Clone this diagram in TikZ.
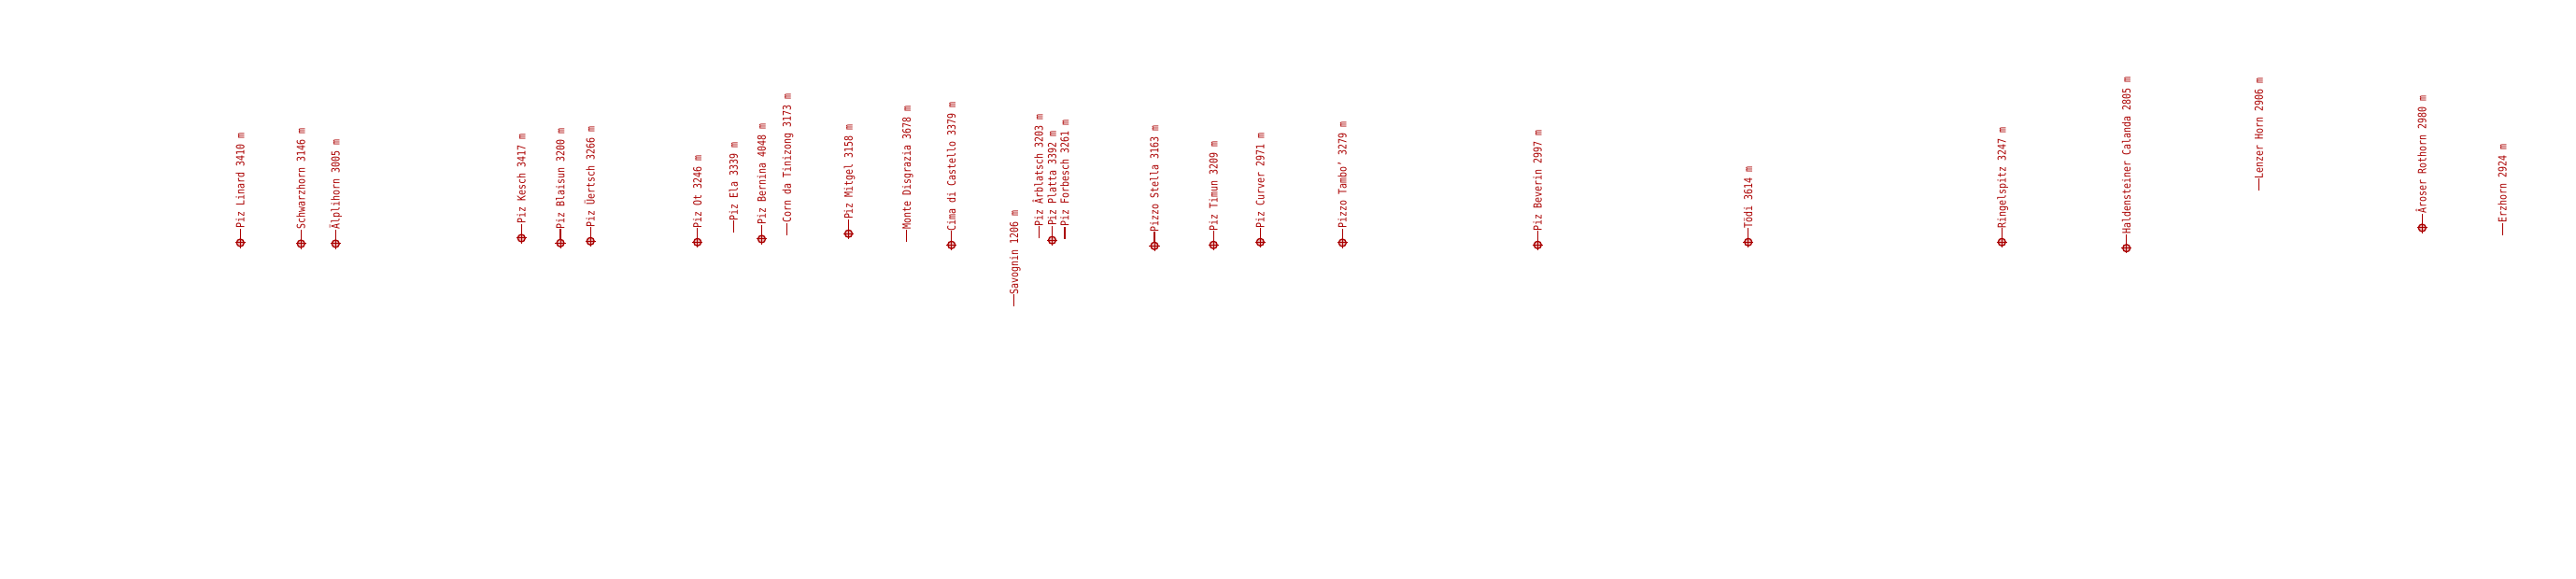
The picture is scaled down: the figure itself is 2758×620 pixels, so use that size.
\documentclass[tikz,border=0pt]{standalone}
\usepackage{fontspec}
\newfontfamily\peakfont[FakeStretch=0.83]{DejaVu Sans Mono}
\definecolor{peakred}{RGB}{170,0,0}
\tikzset{
  peaklabel/.style={rotate=90, anchor=west, inner sep=0pt, text height=8.7pt, text depth=0pt,
    font=\peakfont\fontsize{12pt}{12pt}\selectfont, text=peakred},
  peakmark/.style={circle, draw=peakred, fill=peakred!30, line width=1.3pt, minimum size=8pt, inner sep=0pt},
  leader/.style={draw=peakred, line width=1.2pt},
  crossline/.style={draw=peakred, line width=1pt},
}
\begin{document}
\begin{tikzpicture}[x=1pt,y=-1pt]
\useasboundingbox (0,0) rectangle (2758,620);
\foreach \i/\x/\y/\m/\t in {
  1/257.3/260/1/Piz Linard 3410 m,
  2/322.3/261/1/Schwarzhorn 3146 m,
  3/359.3/261/1/Älplihorn 3005 m,
  4/558.3/255/1/Piz Kesch 3417 m,
  5/600/260.3/1/Piz Blaisun 3200 m,
  6/632.2/258.3/1/Piz Üertsch 3266 m,
  7/746.7/259.3/1/Piz Ot 3246 m,
  8/785.5/249.5/0/Piz Ela 3339 m,
  9/815.5/256/1/Piz Bernina 4048 m,
  10/842.5/251.7/0/Corn da Tinizong 3173 m,
  11/908.5/250.2/1/Piz Mitgel 3158 m,
  12/970.7/259/0/Monte Disgrazia 3678 m,
  13/1018.7/262.3/1/Cima di Castello 3379 m,
  14/1085.7/328.5/0/Savognin 1206 m,
  15/1112.2/255.5/0/Piz Ârblatsch 3203 m,
  16/1126.5/257.2/1/Piz Platta 3392 m,
  17/1140/256/0/Piz Forbesch 3261 m,
  18/1236/263.3/1/Pizzo Stella 3163 m,
  19/1299.2/262.3/1/Piz Timun 3209 m,
  20/1349.3/259.3/1/Piz Curver 2971 m,
  21/1437.3/260/1/Pizzo Tambo’ 3279 m,
  22/1646.3/262.3/1/Piz Beverin 2997 m,
  23/1871.7/259.3/1/Tödi 3614 m,
  24/2143.3/259.3/1/Ringelspitz 3247 m,
  25/2276.7/265.7/1/Haldensteiner Calanda 2805 m,
  26/2418.5/204.3/0/Lenzer Horn 2906 m,
  27/2593.3/244/1/Âroser Rothorn 2980 m,
  28/2679.3/251.7/0/Erzhorn 2924 m}{
  \coordinate (p\i) at (\x,\y);
  \ifnum\m=1
    \node[peaklabel] (t\i) at (\x,\y-15) {\t};
    \draw[leader] (p\i) -- (t\i.west);
    \node[peakmark] (m\i) at (p\i) {};
    \draw[crossline] ([yshift=1pt]m\i.north) -- ([yshift=-1pt]m\i.south);
    \draw[crossline] ([xshift=-1pt]m\i.west) -- ([xshift=1pt]m\i.east);
  \else
    \node[peaklabel] (t\i) at (\x,\y-13) {\t};
    \draw[leader] (p\i) -- (t\i.west);
  \fi
}
\end{tikzpicture}
\end{document}
